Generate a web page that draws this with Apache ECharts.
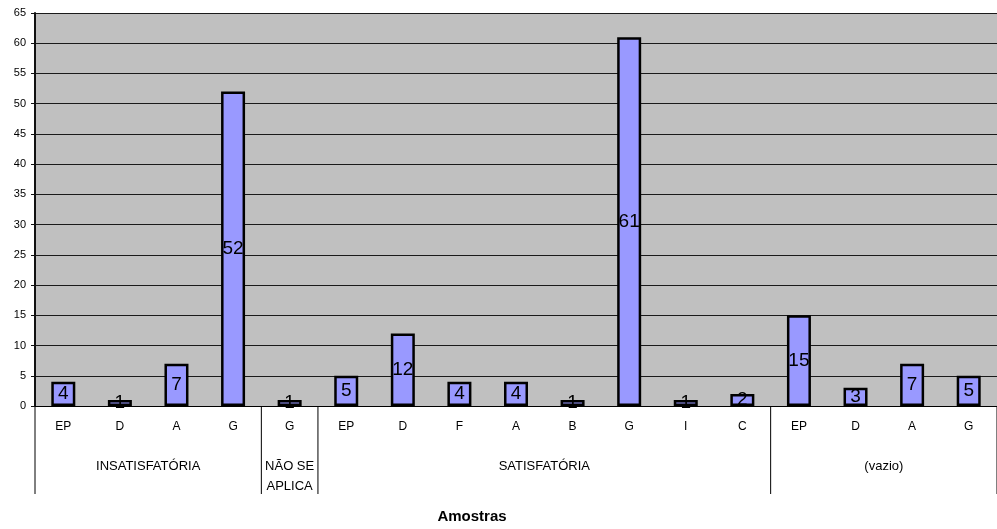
<!DOCTYPE html>
<html>
<head>
<meta charset="utf-8">
<script src="https://cdn.jsdelivr.net/npm/echarts@6/dist/echarts.min.js"></script>
<style>
  html, body { margin: 0; padding: 0; background: #ffffff; }
  #chart { width: 997px; height: 529px; }
</style>
</head>
<body>
<div id="chart"></div>
<script>
// Sample codes (first axis row) and their counts
const categories = ['EP', 'D', 'A', 'G', 'G', 'EP', 'D', 'F', 'A', 'B', 'G', 'I', 'C', 'EP', 'D', 'A', 'G'];
const values = [4, 1, 7, 52, 1, 5, 12, 4, 4, 1, 61, 1, 2, 15, 3, 7, 5];

// Result groups (second axis row) and how many codes each one spans
const groupNames = ['INSATISFATÓRIA', 'NÃO SE\nAPLICA', 'SATISFATÓRIA', '(vazio)'];
const groupSizes = [4, 1, 8, 4];

const axisTitle = 'Amostras';

const FONT = 'Arial, "Liberation Sans", sans-serif';

const chart = echarts.init(document.getElementById('chart'));

chart.setOption({
  animation: false,
  backgroundColor: '#ffffff',
  grid: {
    left: 35, right: 0, top: 13, bottom: 123,
    show: true,
    backgroundColor: '#c0c0c0',
    borderWidth: 0
  },
  xAxis: {
    type: 'category',
    data: categories,
    axisLine: { lineStyle: { color: '#000', width: 1 } },
    axisTick: { length: 32, lineStyle: { color: '#000', width: 1 } },
    axisLabel: { color: '#000', fontSize: 12, fontFamily: FONT, margin: 15, interval: 0 },
    splitLine: { show: false }
  },
  yAxis: {
    type: 'value',
    min: 0, max: 65, interval: 5,
    axisLine: { show: true, lineStyle: { color: '#111', width: 2 } },
    axisTick: { show: true, length: 4, lineStyle: { color: '#111' } },
    axisLabel: { color: '#000', fontSize: 11, fontFamily: FONT, margin: 9 },
    splitLine: { lineStyle: { color: '#1a1a1a', width: 1 } }
  },
  series: [{
    type: 'bar',
    data: values,
    barWidth: 24,
    itemStyle: { color: '#9999ff', borderColor: '#000', borderWidth: 2.5 },
    label: {
      show: true,
      position: 'inside',
      color: '#000',
      fontSize: 19,
      fontFamily: FONT
    }
  }]
});

// Second axis row: group separators and group names, placed from the category scale
function drawGroupRow() {
  const c0 = chart.convertToPixel({ xAxisIndex: 0 }, 0);
  const c1 = chart.convertToPixel({ xAxisIndex: 0 }, 1);
  const band = c1 - c0;
  const y0 = chart.convertToPixel({ yAxisIndex: 0 }, 0);
  const rowBottom = y0 + 88;
  const elements = [];

  let start = 0;
  const boundaryAt = (idx) => c0 - band / 2 + idx * band;
  elements.push({
    type: 'line', silent: true,
    shape: { x1: boundaryAt(0), y1: y0, x2: boundaryAt(0), y2: rowBottom },
    style: { stroke: '#000', lineWidth: 1 }
  });
  groupSizes.forEach((n, g) => {
    const end = start + n;
    const xEnd = boundaryAt(end);
    elements.push({
      type: 'line', silent: true,
      shape: { x1: xEnd, y1: y0, x2: xEnd, y2: rowBottom },
      style: { stroke: '#000', lineWidth: 1 }
    });
    const center = (boundaryAt(start) + xEnd) / 2;
    elements.push({
      type: 'text', silent: true,
      x: center, y: y0 + 50,
      style: {
        text: groupNames[g],
        fill: '#000',
        font: '13px ' + FONT,
        align: 'center',
        verticalAlign: 'top',
        lineHeight: 20
      }
    });
    start = end;
  });

  elements.push({
    type: 'text', silent: true,
    x: 472, y: 517,
    style: {
      text: axisTitle,
      fill: '#000',
      font: 'bold 15px ' + FONT,
      align: 'center',
      verticalAlign: 'middle'
    }
  });

  chart.setOption({ graphic: elements });
}
drawGroupRow();
</script>
</body>
</html>
